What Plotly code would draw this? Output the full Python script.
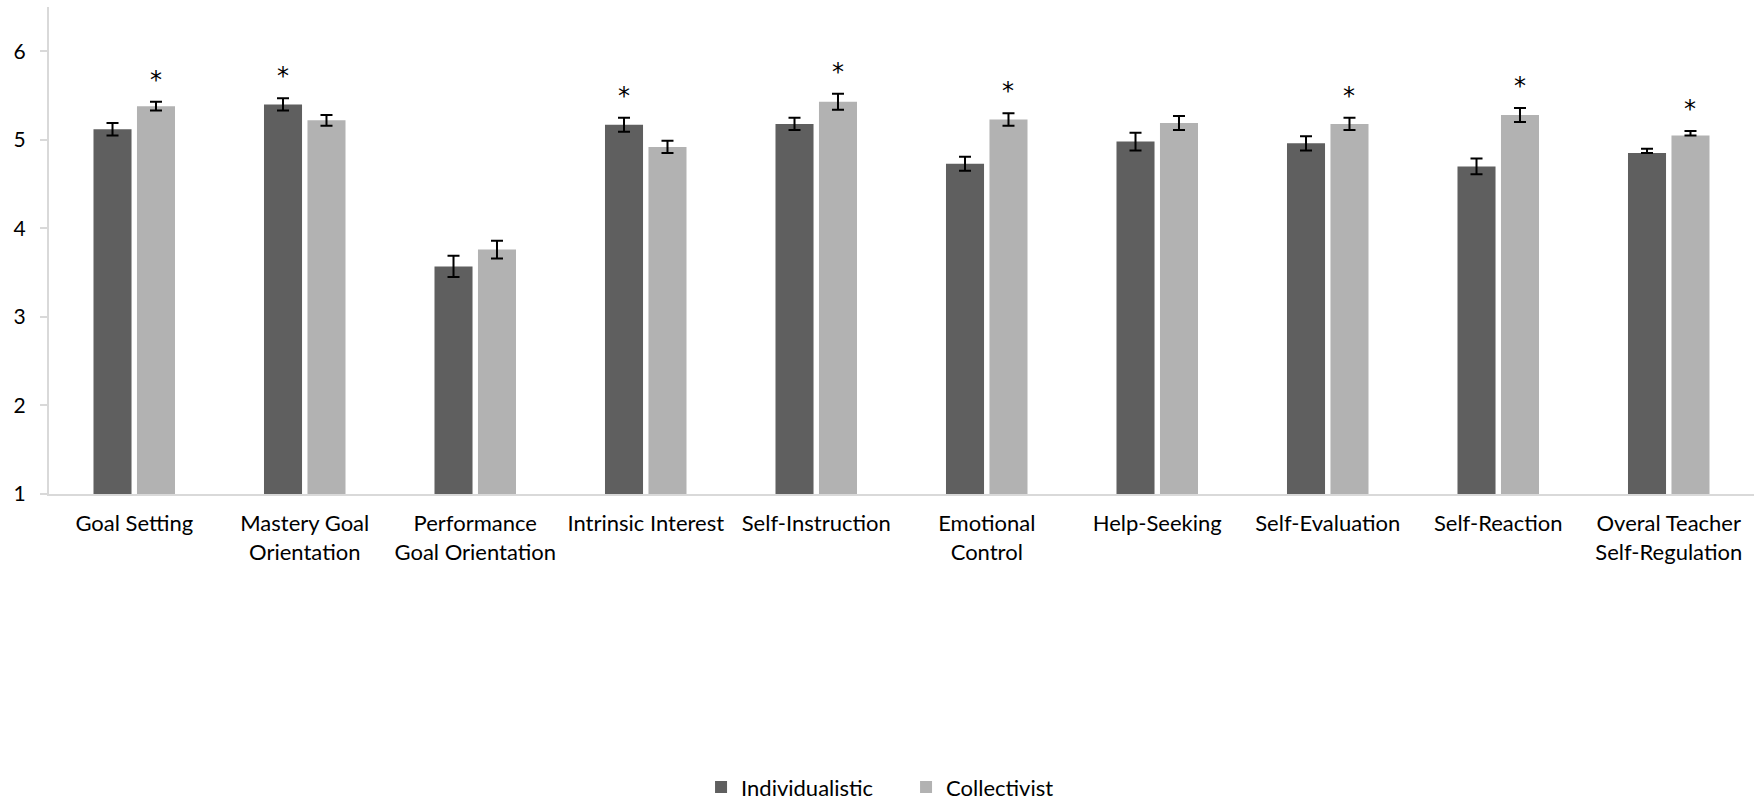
import plotly.graph_objects as go

# Teacher self-regulation subscales (mean, standard error) by cultural group
categories = [
    "Goal Setting",
    "Mastery Goal<br>Orientation",
    "Performance<br>Goal Orientation",
    "Intrinsic Interest",
    "Self-Instruction",
    "Emotional<br>Control",
    "Help-Seeking",
    "Self-Evaluation",
    "Self-Reaction",
    "Overal Teacher<br>Self-Regulation",
]
individualistic = [5.12, 5.40, 3.57, 5.17, 5.18, 4.73, 4.98, 4.96, 4.70, 4.85]
individualistic_se = [0.07, 0.07, 0.12, 0.08, 0.07, 0.08, 0.10, 0.08, 0.09, 0.05]
collectivist = [5.38, 5.22, 3.76, 4.92, 5.43, 5.23, 5.19, 5.18, 5.28, 5.05]
collectivist_se = [0.05, 0.06, 0.10, 0.07, 0.09, 0.07, 0.08, 0.07, 0.08, 0.05]
# the composite score shows only the upper whisker
lower_whisker = [True] * 9 + [False]
# which group is significantly higher (None = no significant difference)
significant = ["C", "I", None, "I", "C", "C", None, "C", "C", "C"]

ytick_vals = [1, 2, 3, 4, 5, 6]

DARK = "#5f5f5f"
LIGHT = "#b2b2b2"
AXIS = "#d9d9d9"
FONT = "Lato"

W, H = 1757, 800
M_L, M_R, M_T, M_B = 49, 3, 7, 306
BARGAP = 0.49
BARGROUPGAP = 0.125


def error_bar(se):
    return dict(
        type="data",
        symmetric=False,
        array=se,
        arrayminus=[e if keep else 0 for e, keep in zip(se, lower_whisker)],
        color="black",
        thickness=2,
        width=6,
    )


fig = go.Figure()
fig.add_trace(go.Bar(
    name="Individualistic", x=categories, y=individualistic,
    marker=dict(color=DARK, line=dict(width=0)),
    error_y=error_bar(individualistic_se),
))
fig.add_trace(go.Bar(
    name="Collectivist", x=categories, y=collectivist,
    marker=dict(color=LIGHT, line=dict(width=0)),
    error_y=error_bar(collectivist_se),
))

# significance markers above the higher bar of each pair
cat_px = (W - M_L - M_R) / len(categories)
bar_shift = cat_px * (1 - BARGAP) / 4
for cat, flag, vi, ei, vc, ec in zip(categories, significant, individualistic,
                                     individualistic_se, collectivist, collectivist_se):
    if flag is None:
        continue
    if flag == "I":
        top, shift = vi + ei, -bar_shift
    else:
        top, shift = vc + ec, bar_shift
    fig.add_annotation(
        x=cat, y=top + 0.25, text="*", showarrow=False,
        xshift=shift, yanchor="middle",
        font=dict(family="DejaVu Sans", size=24, color="black"),
    )

fig.update_layout(
    width=W, height=H,
    margin=dict(l=M_L, r=M_R, t=M_T, b=M_B),
    paper_bgcolor="white", plot_bgcolor="white",
    barmode="group", bargap=BARGAP, bargroupgap=BARGROUPGAP,
    font=dict(family=FONT, size=22, color="black"),
    showlegend=True,
    legend=dict(
        orientation="h",
        xref="container", yref="container",
        x=0.399, xanchor="left",
        y=0.016, yanchor="middle",
        font=dict(family=FONT, size=22, color="black"),
        entrywidth=160, entrywidthmode="pixels",
        traceorder="normal",
    ),
)
fig.update_xaxes(
    showline=True, linecolor=AXIS, linewidth=2,
    ticks="", showgrid=False,
    tickfont=dict(family=FONT, size=22, color="black"),
    ticklabelstandoff=9,
)
fig.update_yaxes(
    range=[1, 6.5], tickvals=ytick_vals,
    showline=True, linecolor=AXIS, linewidth=2,
    ticks="outside", ticklen=7, tickcolor=AXIS, tickwidth=2,
    showgrid=False, zeroline=False,
    tickfont=dict(family=FONT, size=21, color="black"),
    ticklabelstandoff=10,
)

fig.write_html("out.html")
